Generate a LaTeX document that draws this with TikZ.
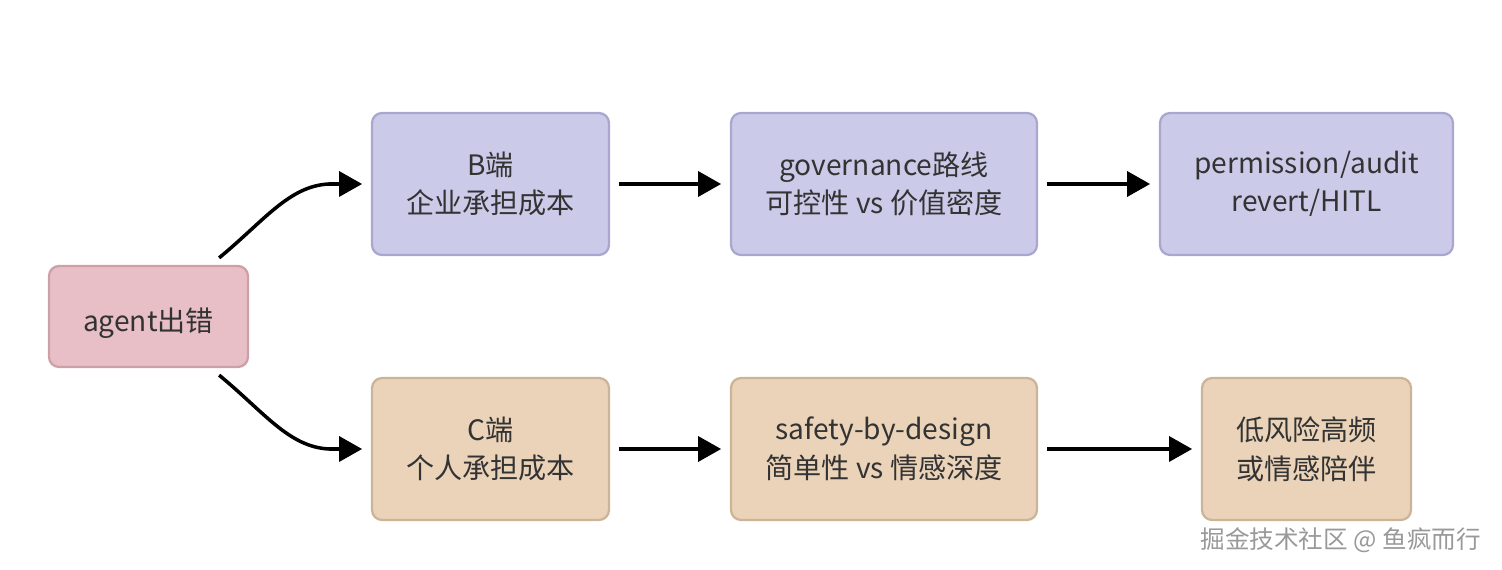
\documentclass[tikz,border=0pt]{standalone}
\usepackage{fontspec}
\setmainfont{Noto Sans CJK SC}
\usetikzlibrary{arrows.meta}

\definecolor{rootfill}{HTML}{E8BFC6}
\definecolor{rootline}{HTML}{CDA0A8}
\definecolor{bfill}{HTML}{CBCAE8}
\definecolor{bline}{HTML}{A9A7CF}
\definecolor{cfill}{HTML}{EAD3B8}
\definecolor{cline}{HTML}{CBB497}
\definecolor{inktext}{HTML}{333333}

\begin{document}
\begin{tikzpicture}[
  x=0.02cm, y=0.02cm,
  flowbox/.style={rounded corners=0.2cm, line width=1.3pt, text=inktext,
    minimum height=2.84cm, align=center,
    execute at begin node={\rule{0pt}{21pt}},
    font=\fontsize{16}{22}\selectfont},
  rootbox/.style={flowbox, draw=rootline, fill=rootfill, minimum width=3.98cm,
    minimum height=2.02cm, execute at begin node={\rule{0pt}{19pt}}},
  bbox/.style={flowbox, draw=bline, fill=bfill},
  cbox/.style={flowbox, draw=cline, fill=cfill},
  flowarrow/.style={-{Triangle[length=0.46cm, width=0.5cm]}, line width=2pt}
]
\useasboundingbox (0,0) rectangle (1502,-570);
\node[rootbox] (root) at (148.5,-316.5) {agent出错};
\node[bbox, minimum width=4.74cm] (bside) at (490.5,-184) {B端\\企业承担成本};
\node[bbox, minimum width=6.12cm] (govern) at (884,-184) {governance路线\\可控性 vs 价值密度};
\node[bbox, minimum width=5.86cm] (audit) at (1306.5,-184) {permission/audit\\revert/HITL};
\node[cbox, minimum width=4.74cm] (cside) at (490.5,-449) {C端\\个人承担成本};
\node[cbox, minimum width=6.12cm] (safety) at (884,-449) {safety-by-design\\简单性 vs 情感深度};
\node[cbox, minimum width=4.18cm] (lowrisk) at (1306.5,-449) {低风险高频\\或情感陪伴};
\node[text=black!40, font=\fontsize{14}{16}\selectfont, anchor=east] (mark) at (1487,-540) {掘金技术社区 @ 鱼疯而行};
% branches out of the root box
\draw[flowarrow] ([shift={(-30,7)}]root.north east) .. controls +(45,37) and +(-40,-2) .. ([shift={(-42,0)}]bside.west) -- ([xshift=-5]bside.west);
\draw[flowarrow] ([shift={(-30,-7)}]root.south east) .. controls +(45,-37) and +(-40,2) .. ([shift={(-42,0)}]cside.west) -- ([xshift=-5]cside.west);
\foreach \a/\b in {bside/govern,govern/audit,cside/safety,safety/lowrisk}
  \draw[flowarrow] ([xshift=5]\a.east) -- ([xshift=-5]\b.west);
\end{tikzpicture}
\end{document}
